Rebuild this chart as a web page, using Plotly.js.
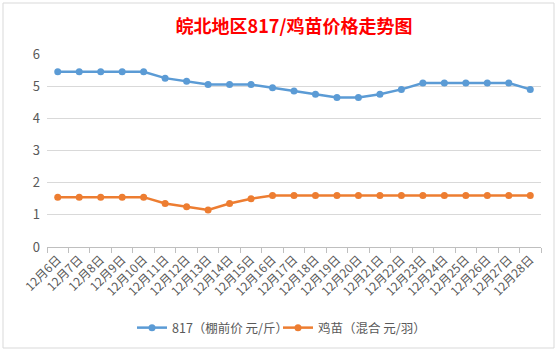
<!DOCTYPE html>
<html>
<head>
<meta charset="utf-8">
<script src="https://cdn.plot.ly/plotly-3.0.1.min.js"></script>
<style>html,body{margin:0;padding:0;background:#fff;}#chart{width:558px;height:351px;}</style>
</head>
<body>
<div id="chart"></div>
<script>
const dates = ["12月6日","12月7日","12月8日","12月9日","12月10日","12月11日","12月12日","12月13日","12月14日","12月15日","12月16日","12月17日","12月18日","12月19日","12月20日","12月21日","12月22日","12月23日","12月24日","12月25日","12月26日","12月27日","12月28日"];
const price817 = [5.45,5.45,5.45,5.45,5.45,5.25,5.15,5.05,5.05,5.05,4.95,4.85,4.75,4.65,4.65,4.75,4.9,5.1,5.1,5.1,5.1,5.1,4.9];
const chickPrice = [1.55,1.55,1.55,1.55,1.55,1.35,1.25,1.15,1.35,1.5,1.6,1.6,1.6,1.6,1.6,1.6,1.6,1.6,1.6,1.6,1.6,1.6,1.6];
const seriesNames = ["817（棚前价 元/斤）","鸡苗（混合 元/羽）"];

const font = "'Noto Sans CJK SC', 'Noto Sans', sans-serif";
const traces = [
  {x: dates, y: price817, name: seriesNames[0], type: "scatter", mode: "lines+markers",
   line: {color: "#5B9BD5", width: 2.5}, marker: {color: "#5B9BD5", size: 7}},
  {x: dates, y: chickPrice, name: seriesNames[1], type: "scatter", mode: "lines+markers",
   line: {color: "#ED7D31", width: 2.5}, marker: {color: "#ED7D31", size: 7}}
];
const layout = {
  width: 558, height: 351,
  paper_bgcolor: "#ffffff", plot_bgcolor: "#ffffff",
  margin: {l: 47, r: 17, t: 54, b: 104},
  font: {family: font, color: "#595959", size: 12},
  title: {text: "<b>皖北地区817/鸡苗价格走势图</b>", font: {family: font, size: 18, color: "#FF0000"},
          x: 0.5, xanchor: "center", y: 0.925, yanchor: "middle", xref: "paper"},
  xaxis: {type: "category", range: [-0.5, dates.length - 0.5], autorange: false, tickangle: -45,
          showgrid: false, showline: true, linecolor: "#BFBFBF", linewidth: 1,
          ticks: "outside", tickson: "boundaries", ticklen: 5, tickcolor: "#BFBFBF", automargin: false,
          tickfont: {family: font, size: 12, color: "#595959"}, zeroline: false, fixedrange: true},
  yaxis: {range: [0, 6], autorange: false, dtick: 1, tick0: 0, showgrid: true, gridcolor: "#D9D9D9", gridwidth: 1, automargin: false,
          showline: false, zeroline: false, ticks: "", ticklabelstandoff: 6, tickfont: {family: font, size: 13, color: "#595959"}},
  showlegend: true,
  legend: {orientation: "h", xref: "container", yref: "container", x: 278/558, xanchor: "center",
           y: 1 - 328/351, yanchor: "middle", entrywidth: 101, entrywidthmode: "pixels",
           font: {family: font, size: 12.5, color: "#595959"}, itemwidth: 30, bgcolor: "rgba(0,0,0,0)"},
  shapes: [
    {type: "rect", xref: "paper", yref: "paper", x0: -44/494, x1: 1 + 13/494, y0: -101/193, y1: 1 + 51/193,
     line: {color: "#D9D9D9", width: 1}, fillcolor: "rgba(0,0,0,0)"}
  ]
};
Plotly.newPlot("chart", traces, layout, {displayModeBar: false, staticPlot: true});
</script>
</body>
</html>
